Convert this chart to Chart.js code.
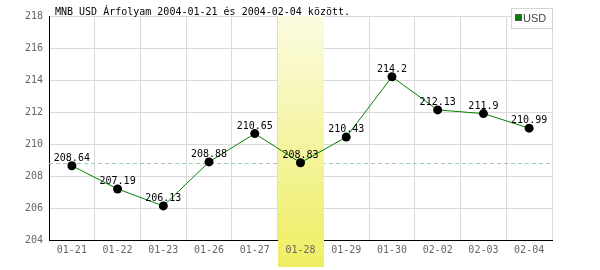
<!DOCTYPE html>
<html lang="hu">
<head>
<meta charset="utf-8">
<title>MNB USD árfolyam</title>
<script src="https://cdn.jsdelivr.net/npm/chart.js@4/dist/chart.umd.min.js"></script>
<style>
  html, body { margin: 0; padding: 0; background: #fff; }
  #wrap { width: 600px; height: 270px; }
</style>
</head>
<body>
<div id="wrap"><canvas id="myChart"></canvas></div>
<script>
// adatok
var titleText = 'MNB USD Árfolyam 2004-01-21 és 2004-02-04 között.';
var seriesName = 'USD';
var days = ['01-21', '01-22', '01-23', '01-26', '01-27', '01-28', '01-29', '01-30', '02-02', '02-03', '02-04'];
var rates = [208.64, 207.19, 206.13, 208.88, 210.65, 208.83, 210.43, 214.2, 212.13, 211.9, 210.99];
var rateLabels = ['208.64', '207.19', '206.13', '208.88', '210.65', '208.83', '210.43', '214.2', '212.13', '211.9', '210.99'];
var highlightIndex = 5;
var yMin = 204, yMax = 218, yStep = 2;

var mono = 'DejaVu Sans Mono';

// kiemelt oszlop + szaggatott vonal, feliratok, cím, jelmagyarázat
var extras = {
    id: 'extras',
    beforeDatasetsDraw: function (chart) {
        var c = chart.ctx, a = chart.chartArea;
        var x = chart.scales.x, y = chart.scales.y;
        // szaggatott vonal a kiemelt nap értékénél
        var yy = Math.round(y.getPixelForValue(rates[highlightIndex])) + 0.5;
        c.save();
        c.strokeStyle = '#a3cfa3';
        c.lineWidth = 1;
        c.setLineDash([4, 3]);
        c.beginPath();
        c.moveTo(a.left, yy);
        c.lineTo(a.right, yy);
        c.stroke();
        c.restore();
        // sárga oszlop
        var w = (a.right - a.left) / days.length;
        var cx = x.getPixelForValue(highlightIndex);
        var bottom = chart.height - 3;
        var g = c.createLinearGradient(0, a.top, 0, bottom);
        g.addColorStop(0, '#fbfbe2');
        g.addColorStop(1, '#eeee62');
        c.save();
        c.fillStyle = g;
        c.fillRect(Math.round(cx - w / 2), a.top, Math.round(w), bottom - a.top);
        c.restore();
    },
    afterDatasetsDraw: function (chart) {
        var c = chart.ctx;
        var meta = chart.getDatasetMeta(0);
        c.save();
        c.font = '10px "' + mono + '"';
        c.fillStyle = '#000';
        c.textAlign = 'center';
        c.textBaseline = 'alphabetic';
        meta.data.forEach(function (p, i) {
            c.fillText(rateLabels[i], p.x, p.y - 5);
        });
        c.restore();
    },
    afterDraw: function (chart) {
        var c = chart.ctx;
        c.save();
        // cím
        c.font = '10px "' + mono + '"';
        c.fillStyle = '#000';
        c.textAlign = 'left';
        c.textBaseline = 'alphabetic';
        c.fillText(titleText, 55, 15);
        // jelmagyarázat
        c.fillStyle = '#fff';
        c.fillRect(511, 8, 41, 20);
        c.strokeStyle = '#d4d4d4';
        c.lineWidth = 1;
        c.strokeRect(511.5, 8.5, 41, 20);
        c.fillStyle = '#008000';
        c.fillRect(515, 15, 6, 6);
        c.strokeStyle = '#555';
        c.strokeRect(515.5, 14.5, 6, 6);
        c.fillStyle = '#444';
        c.font = '11px "Liberation Sans Narrow", "Liberation Sans", sans-serif';
        c.textBaseline = 'middle';
        c.fillText(seriesName, 523, 18.5);
        c.restore();
    }
};

var ctx = document.getElementById('myChart').getContext('2d');
var chart = new Chart(ctx, {
    type: 'line',
    data: {
        labels: days,
        datasets: [{
            label: seriesName,
            data: rates,
            borderColor: '#008000',
            borderWidth: 1,
            backgroundColor: '#000',
            pointBackgroundColor: '#000',
            pointBorderColor: '#000',
            pointBorderWidth: 0,
            pointRadius: 4.5,
            tension: 0,
            fill: false
        }]
    },
    options: {
        responsive: true,
        maintainAspectRatio: false,
        animation: false,
        layout: { padding: { top: 16, right: 48, left: 0, bottom: 0 } },
        plugins: {
            legend: { display: false },
            title: { display: false },
            tooltip: { enabled: false }
        },
        scales: {
            x: {
                offset: true,
                grid: { offset: true, color: '#dadada', drawTicks: false },
                border: { color: '#000', width: 1 },
                ticks: {
                    z: 1,
                    color: '#666',
                    padding: 4,
                    maxRotation: 0,
                    autoSkip: false,
                    font: { family: mono, size: 10 }
                },
                afterFit: function (s) { s.height = 30; }
            },
            y: {
                min: yMin,
                max: yMax,
                grid: { color: '#dadada', drawTicks: false },
                border: { color: '#000', width: 1 },
                ticks: {
                    stepSize: yStep,
                    color: '#666',
                    padding: 6,
                    font: { family: mono, size: 10 }
                },
                afterFit: function (s) { s.width = 49; }
            }
        }
    },
    plugins: [extras]
});
</script>
</body>
</html>
